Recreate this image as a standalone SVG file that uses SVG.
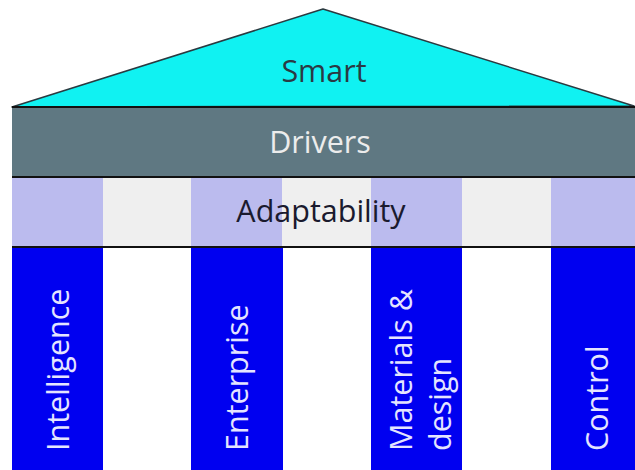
<svg xmlns="http://www.w3.org/2000/svg" width="635" height="470" viewBox="0 0 635 470">
  <style>
    .lbl { font-family: "Open Sans", "Noto Sans", "Liberation Sans", sans-serif; font-size: 30.5px; }
    .col { fill: #0000f0; }
    .colText { fill: #e4e4ff; }
    .tint { fill: #bbbbee; }
    .plain { fill: #efefef; }
    .rule { stroke: #111111; stroke-width: 2; }
  </style>

  <!-- roof -->
  <g id="roof">
    <polygon points="12,107 323,9 634,106" fill="#10f2f2" stroke="#2a3a40" stroke-width="1.5" stroke-linejoin="round"/>
    <text class="lbl" x="324" y="82" text-anchor="middle" fill="#2a3a44">Smart</text>
  </g>

  <!-- drivers band -->
  <g id="drivers">
    <rect x="12" y="107" width="623" height="70" fill="#5f7882"/>
    <line class="rule" x1="12" y1="107" x2="635" y2="107"/>
    <line class="rule" x1="12" y1="177" x2="635" y2="177"/>
    <text class="lbl" x="320" y="153" text-anchor="middle" fill="#ececec">Drivers</text>
  </g>

  <!-- adaptability band -->
  <g id="adaptability">
    <rect class="tint" x="12" y="178" width="91" height="69"/>
    <rect class="plain" x="103" y="178" width="88" height="69"/>
    <rect class="tint" x="191" y="178" width="91" height="69"/>
    <rect class="plain" x="282" y="178" width="89" height="69"/>
    <rect class="tint" x="371" y="178" width="91" height="69"/>
    <rect class="plain" x="462" y="178" width="89" height="69"/>
    <rect class="tint" x="551" y="178" width="84" height="69"/>
    <line class="rule" x1="12" y1="247" x2="635" y2="247"/>
    <text class="lbl" x="321" y="222" text-anchor="middle" fill="#1a1a2e">Adaptability</text>
  </g>

  <!-- pillars -->
  <g id="intelligence">
    <rect class="col" x="12" y="248" width="91" height="222"/>
    <text class="lbl colText" transform="translate(69,451) rotate(-90)">Intelligence</text>
  </g>
  <g id="enterprise">
    <rect class="col" x="191" y="248" width="92" height="222"/>
    <text class="lbl colText" transform="translate(248,451) rotate(-90)">Enterprise</text>
  </g>
  <g id="materials">
    <rect class="col" x="371" y="248" width="91" height="222"/>
    <text class="lbl colText" transform="translate(412,451) rotate(-90)">Materials &amp;</text>
    <text class="lbl colText" transform="translate(451,451) rotate(-90)">design</text>
  </g>
  <g id="control">
    <rect class="col" x="551" y="248" width="84" height="222"/>
    <text class="lbl colText" transform="translate(608,451) rotate(-90)">Control</text>
  </g>

  <g id="connectors"/>
</svg>
